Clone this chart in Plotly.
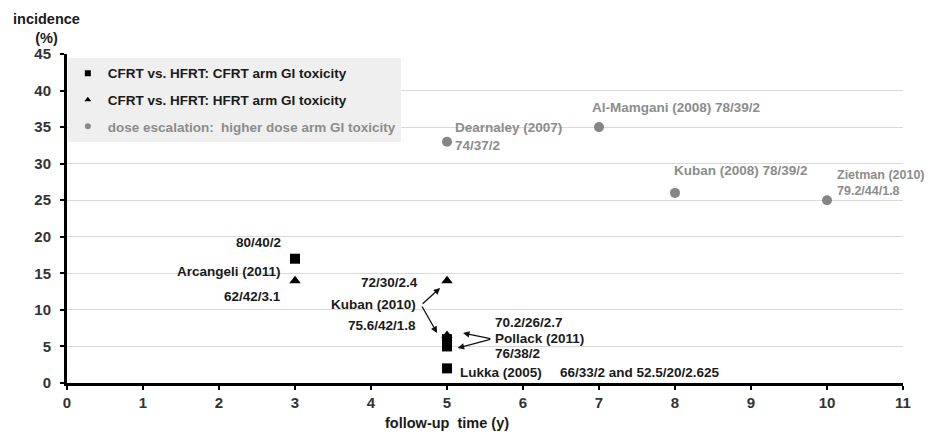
import plotly.graph_objects as go

# ---- data ----
cfrt_x = [3, 5, 5, 5]
cfrt_y = [17, 6, 5, 2]
hfrt_x = [3, 5, 5]
hfrt_y = [14, 14, 6.5]
esc_x = [5, 7, 8, 10]
esc_y = [33, 35, 26, 25]

x_ticks = list(range(0, 12))
y_ticks = list(range(0, 50, 5))

legend_names = [
    "CFRT vs. HFRT: CFRT arm GI toxicity",
    "CFRT vs. HFRT: HFRT arm GI toxicity",
    "dose escalation:  higher dose arm GI toxicity",
]

dark_labels = [
    # text, x, y, xanchor
    ("80/40/2", 2.84, 19.15, "right"),
    ("Arcangeli (2011)", 2.84, 15.3, "right"),
    ("62/42/3.1", 2.84, 11.9, "right"),
    ("72/30/2.4", 4.64, 13.7, "right"),
    ("Kuban (2010)", 4.62, 10.7, "right"),
    ("75.6/42/1.8", 4.62, 7.9, "right"),
    ("70.2/26/2.7", 5.61, 8.3, "left"),
    ("Pollack (2011)", 5.61, 6.15, "left"),
    ("76/38/2", 5.61, 4.1, "left"),
    ("Lukka (2005)", 5.14, 1.5, "left"),
    ("66/33/2 and 52.5/20/2.625", 6.46, 1.5, "left"),
]
gray_labels = [
    # text, x, y, xanchor, font size
    ("Dearnaley (2007)<br>74/37/2", 5.08, 33.7, "left", 13.5),
    ("Al-Mamgani (2008) 78/39/2", 6.88, 37.75, "left", 13.5),
    ("Kuban (2008) 78/39/2", 7.96, 29.0, "left", 13.5),
    ("Zietman (2010)<br>79.2/44/1.8", 10.1, 27.4, "left", 12.5),
]
# arrows: head x, head y, tail x, tail y
arrows = [
    (4.91, 13.0, 4.66, 10.67),
    (4.87, 6.84, 4.66, 10.67),
    (5.21, 6.84, 5.59, 6.02),
    (5.14, 4.79, 5.59, 6.02),
]

FONT = "Arial, 'Liberation Sans', sans-serif"
GRAY = "#8c8c8c"
DARK = "#1a1a1a"

fig = go.Figure()
# data traces
fig.add_trace(go.Scatter(x=cfrt_x, y=cfrt_y, mode="markers", showlegend=False,
                         marker=dict(symbol="square", size=10, color="black")))
fig.add_trace(go.Scatter(x=hfrt_x, y=hfrt_y, mode="markers", showlegend=False,
                         marker=dict(symbol="triangle-up", size=10, color="black")))
fig.add_trace(go.Scatter(x=esc_x, y=esc_y, mode="markers", showlegend=False,
                         marker=dict(symbol="circle", size=10, color="#858585")))
# legend entries (small markers as in the original legend)
leg_styles = [("square", "black", DARK), ("triangle-up", "black", DARK),
              ("circle", "#8a8a8a", GRAY)]
for i, (name, (sym, mcol, tcol)) in enumerate(zip(legend_names, leg_styles)):
    fig.add_trace(go.Scatter(x=[None], y=[None], mode="markers",
                             name="<span style='color:%s'>%s</span>" % (tcol, name),
                             legendgroup="g%d" % i,
                             marker=dict(symbol=sym, size=6, color=mcol)))

ann = []
for t, x, y, xa in dark_labels:
    ann.append(dict(text="<b>%s</b>" % t, x=x, y=y, xref="x", yref="y", xanchor=xa,
                    yanchor="middle", showarrow=False,
                    font=dict(family=FONT, size=13.5, color=DARK)))
for t, x, y, xa, fs in gray_labels:
    ann.append(dict(text="<b>%s</b>" % t, x=x, y=y, xref="x", yref="y", xanchor=xa,
                    yanchor="middle", showarrow=False, align="left",
                    font=dict(family=FONT, size=fs, color=GRAY)))
for hx, hy, tx, ty in arrows:
    ann.append(dict(text="", x=hx, y=hy, ax=tx, ay=ty, xref="x", yref="y",
                    axref="x", ayref="y", showarrow=True, arrowhead=2,
                    arrowsize=1, arrowwidth=1.3, arrowcolor="#111"))
ann.append(dict(text="<b>incidence<br>(%)</b>", x=-0.024, y=1.137, xref="paper",
                yref="paper", xanchor="center", yanchor="top", showarrow=False,
                align="center", font=dict(family=FONT, size=14.5, color=DARK)))
ann.append(dict(text="<b>follow-up  time (y)</b>", x=5, y=-0.1216, xref="x",
                yref="paper", xanchor="center", yanchor="middle", showarrow=False,
                font=dict(family=FONT, size=14.5, color=DARK)))

fig.update_layout(
    width=926, height=426,
    margin=dict(l=59, r=31, t=46, b=51),
    paper_bgcolor="white", plot_bgcolor="white",
    font=dict(family=FONT, size=13, color="#333"),
    showlegend=True,
    legend=dict(x=0.001, y=0.988, xanchor="left", yanchor="top",
                bgcolor="#efefef", borderwidth=0,
                font=dict(family=FONT, size=13.5, color=DARK, weight="bold"),
                tracegroupgap=6, itemwidth=30, traceorder="grouped"),
    annotations=ann,
)
fig.update_xaxes(range=[0, 11], tickvals=x_ticks, showgrid=False, zeroline=False,
                 showline=True, linecolor="black", linewidth=3,
                 ticks="outside", ticklen=4, tickwidth=2, tickcolor="black",
                 tickfont=dict(family=FONT, size=15, color="#333", weight="bold"))
fig.update_yaxes(range=[0, 45], tickvals=y_ticks, showgrid=True, gridcolor="#d9d9d9",
                 gridwidth=1, zeroline=False,
                 showline=True, linecolor="black", linewidth=3,
                 ticks="outside", ticklen=4, tickwidth=2, tickcolor="black",
                 ticklabelstandoff=6,
                 tickfont=dict(family=FONT, size=15, color="#333", weight="bold"))

fig.write_html("out.html")
